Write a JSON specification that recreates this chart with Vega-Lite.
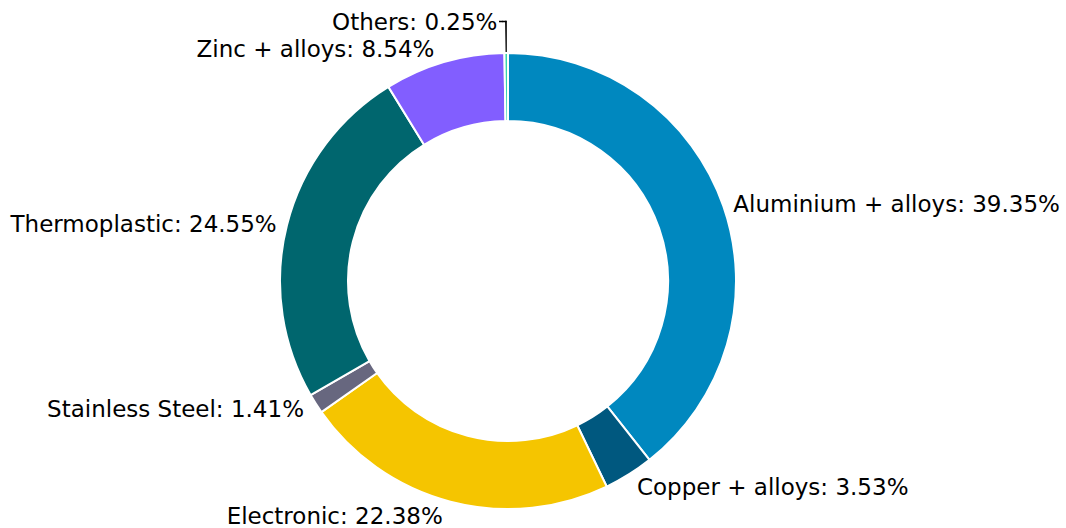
{
  "$schema": "https://vega.github.io/schema/vega-lite/v6.json",
  "autosize": "none",
  "width": 1016,
  "height": 494,
  "padding": {"left": 0, "top": 34, "right": 50, "bottom": 0},
  "background": "white",
  "config": {"view": {"stroke": null}, "text": {"font": "DejaVu Sans", "fontSize": 23, "color": "black", "baseline": "middle"}},
  "data": {
    "values": [
      {"material": "Aluminium + alloys", "pct": 39.35, "rank": 1, "label": "Aluminium + alloys: 39.35%"},
      {"material": "Copper + alloys", "pct": 3.53, "rank": 2, "label": "Copper + alloys: 3.53%"},
      {"material": "Electronic", "pct": 22.38, "rank": 3, "label": "Electronic: 22.38%"},
      {"material": "Stainless Steel", "pct": 1.41, "rank": 4, "label": "Stainless Steel: 1.41%"},
      {"material": "Thermoplastic", "pct": 24.55, "rank": 5, "label": "Thermoplastic: 24.55%"},
      {"material": "Zinc + alloys", "pct": 8.54, "rank": 6, "label": "Zinc + alloys: 8.54%"},
      {"material": "Others", "pct": 0.25, "rank": 7, "label": "Others: 0.25%"}
    ]
  },
  "encoding": {
    "theta": {"field": "pct", "type": "quantitative", "stack": true},
    "order": {"field": "rank", "type": "quantitative"},
    "detail": {"field": "material"}
  },
  "layer": [
    {
      "mark": {"type": "arc", "outerRadius": 228, "innerRadius": 160, "stroke": "white", "strokeWidth": 2},
      "encoding": {
        "color": {
          "field": "material",
          "type": "nominal",
          "legend": null,
          "scale": {
            "domain": ["Aluminium + alloys", "Copper + alloys", "Electronic", "Stainless Steel", "Thermoplastic", "Zinc + alloys", "Others"],
            "range": ["#0088BF", "#00587F", "#F5C500", "#67677F", "#00666E", "#825EFF", "#36D6AC"]
          }
        }
      }
    },
    {
      "mark": {"type": "arc", "outerRadius": 260.3, "innerRadius": 229, "padAngle": 0.0068, "fill": "black", "strokeWidth": 0},
      "encoding": {
        "opacity": {"condition": {"test": "datum.material == 'Others'", "value": 1}, "value": 0}
      }
    },
    {
      "mark": {"type": "arc", "outerRadius": 260.3, "innerRadius": 258.8, "thetaOffset": -0.0058, "fill": "black", "strokeWidth": 0},
      "encoding": {
        "opacity": {"condition": {"test": "datum.material == 'Others'", "value": 1}, "value": 0}
      }
    },
    {
      "mark": {"type": "arc", "outerRadius": 260.3, "innerRadius": 258.8, "thetaOffset": -0.019, "fill": "black", "strokeWidth": 0},
      "encoding": {
        "opacity": {"condition": {"test": "datum.material == 'Others'", "value": 1}, "value": 0}
      }
    },
    {
      "mark": {"type": "text", "radius": 240, "align": "left", "dx": -1.4, "dy": 3.2},
      "encoding": {"text": {"condition": {"test": "datum.material == 'Aluminium + alloys'", "field": "label"}, "value": ""}}
    },
    {
      "mark": {"type": "text", "radius": 240, "align": "left", "dx": 1.8, "dy": 3.9},
      "encoding": {"text": {"condition": {"test": "datum.material == 'Copper + alloys'", "field": "label"}, "value": ""}}
    },
    {
      "mark": {"type": "text", "radius": 240, "align": "right", "dx": -4.6, "dy": 3.7},
      "encoding": {"text": {"condition": {"test": "datum.material == 'Electronic'", "field": "label"}, "value": ""}}
    },
    {
      "mark": {"type": "text", "radius": 240, "align": "right", "dx": -1.7, "dy": -0.5},
      "encoding": {"text": {"condition": {"test": "datum.material == 'Stainless Steel'", "field": "label"}, "value": ""}}
    },
    {
      "mark": {"type": "text", "radius": 240, "align": "right", "dx": 1.4, "dy": 2.3},
      "encoding": {"text": {"condition": {"test": "datum.material == 'Thermoplastic'", "field": "label"}, "value": ""}}
    },
    {
      "mark": {"type": "text", "radius": 240, "align": "right", "dx": -6.3, "dy": -0.7},
      "encoding": {"text": {"condition": {"test": "datum.material == 'Zinc + alloys'", "field": "label"}, "value": ""}}
    },
    {
      "mark": {"type": "text", "radius": 261, "align": "right", "dx": -8.5, "dy": 2.9},
      "encoding": {"text": {"condition": {"test": "datum.material == 'Others'", "field": "label"}, "value": ""}}
    }
  ]
}
